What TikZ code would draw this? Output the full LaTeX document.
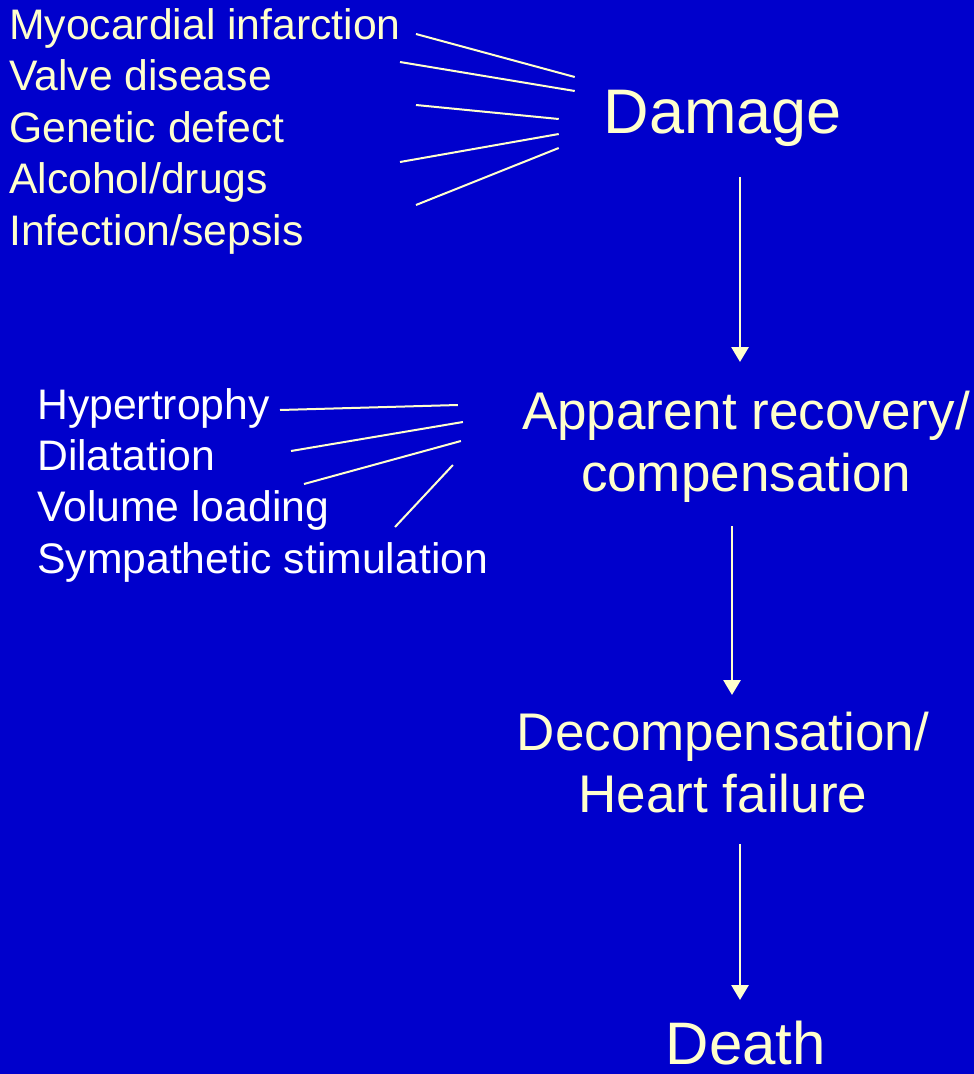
\documentclass[tikz,border=0pt]{standalone}
\usepackage{fontspec}
\setmainfont{Liberation Sans}
\usepackage{tikz}
\usetikzlibrary{arrows.meta}
\definecolor{slidebg}{HTML}{0000CC}
\definecolor{slidefg}{HTML}{FFFFCC}
\definecolor{listfg}{HTML}{FFFFFF}
\tikzstyle{stage} = [text=slidefg, align=center, inner sep=0pt, anchor=base]
\tikzstyle{causelist} = [text=slidefg, align=left, inner sep=0pt, anchor=base west,
  font=\fontsize{42.7}{51.5}\selectfont]
\tikzstyle{factorlist} = [text=listfg, align=left, inner sep=0pt, anchor=base west,
  font=\fontsize{42.7}{51.3}\selectfont]
\tikzstyle{flow} = [-{Triangle[width=17pt,length=15pt]}, color=slidefg, line width=2.8pt]
\tikzstyle{spoke} = [color=slidefg, line width=2pt]
\begin{document}
\begin{tikzpicture}[x=1pt, y=1pt]

  \fill[slidebg] (0,0) rectangle (974,-1074);
  \useasboundingbox (0,0) rectangle (974,-1074);

  % base anchors sit on the last line of each node
  \node[stage, font=\fontsize{63}{74}\selectfont] (damage) at (723,-133) {Damage};

  \node[stage, font=\fontsize{53}{62}\selectfont] (recovery) at (746,-491)
    {Apparent recovery/\\compensation};

  \node[stage, font=\fontsize{53}{62}\selectfont] (decomp) at (723,-812)
    {Decompensation/\\Heart failure};

  \node[stage, font=\fontsize{60}{70}\selectfont] (death) at (746,-1064) {Death};

  \node[causelist] (causes) at (9,-245)
    {Myocardial infarction\\Valve disease\\Genetic defect\\Alcohol/drugs\\Infection/sepsis};

  \node[factorlist] (factors) at (37,-573)
    {Hypertrophy\\Dilatation\\Volume loading\\Sympathetic stimulation};

  % Main flow
  \draw[flow] ([shift={(17,-44)}]damage.base) -- ([shift={(-6,129)}]recovery.base);
  \draw[flow] ([shift={(-14,-35)}]recovery.base) -- ([shift={(9,117)}]decomp.base);
  \draw[flow] ([shift={(17,-32)}]decomp.base) -- ([shift={(-6,64)}]death.base);

  % Causes fanning into damage
  \draw[spoke] ([shift={(407,211)}]causes.base west) -- ([shift={(-29,56)}]damage.base west);
  \draw[spoke] ([shift={(391,183)}]causes.base west) -- ([shift={(-29,42)}]damage.base west);
  \draw[spoke] ([shift={(407,140)}]causes.base west) -- ([shift={(-45,14)}]damage.base west);
  \draw[spoke] ([shift={(391,83)}]causes.base west) -- ([shift={(-45,-1)}]damage.base west);
  \draw[spoke] ([shift={(407,40)}]causes.base west) -- ([shift={(-45,-15)}]damage.base west);

  % Compensating factors fanning into recovery
  \draw[spoke] ([shift={(243,163)}]factors.base west) -- ([shift={(-64,86)}]recovery.base west);
  \draw[spoke] ([shift={(254,122)}]factors.base west) -- ([shift={(-59,69)}]recovery.base west);
  \draw[spoke] ([shift={(267,89)}]factors.base west) -- ([shift={(-61,50)}]recovery.base west);
  \draw[spoke] ([shift={(358,46)}]factors.base west) -- ([shift={(-69,26)}]recovery.base west);

\end{tikzpicture}
\end{document}
